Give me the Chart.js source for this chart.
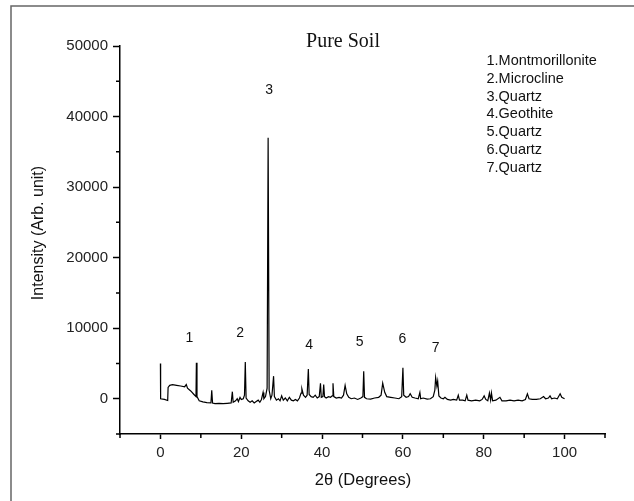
<!DOCTYPE html>
<html>
<head>
<meta charset="utf-8">
<script src="https://cdn.jsdelivr.net/npm/chart.js@4/dist/chart.umd.min.js"></script>
<style>
  html, body { margin: 0; padding: 0; background: #fff; }
  canvas { display: block; }
</style>
</head>
<body>
<canvas id="myChart" width="634" height="501"></canvas>
<script>
// 2theta (degrees) and intensity
const twoTheta = [
  0, 0.05, 1.0, 1.8, 1.9, 2.3, 3, 4, 5, 6, 6.4, 6.7, 7.5, 8.3, 8.8, 8.9, 9.05, 9.6, 10.5, 11.5,
  12.5, 12.7, 12.9, 13.5, 14.5, 15.5, 16.5, 17.5, 17.8, 18.0, 18.6, 19.0, 19.3, 19.7, 20.0, 20.5, 20.8, 21.0, 21.2, 21.7,
  22.2, 22.7, 23.2, 23.7, 24.2, 24.6, 25.0, 25.4, 25.6, 26.0, 26.4, 26.65, 26.9, 27.3, 27.6, 28.0, 28.2, 28.7, 29.2, 29.6,
  30.0, 30.4, 30.9, 31.4, 31.9, 32.4, 32.9, 33.4, 33.9, 34.4, 34.8, 35.0, 35.4, 35.9, 36.3, 36.6, 36.8, 37.3, 37.8, 38.3,
  38.8, 39.3, 39.6, 39.8, 40.2, 40.4, 40.6, 41.0, 41.6, 42.1, 42.5, 42.7, 42.9, 43.5, 44.2, 44.8, 45.3, 45.7, 46.1, 46.6,
  47.2, 48.0, 48.8, 49.6, 50.1, 50.3, 50.5, 51.0, 52.0, 53.0, 54.0, 54.6, 55.0, 55.5, 56.0, 57.0, 58.0, 59.0, 59.7, 60.0,
  60.2, 60.8, 61.4, 61.8, 62.3, 63.0, 63.8, 64.2, 64.4, 65.0, 66.0, 66.8, 67.5, 67.9, 68.1, 68.4, 68.6, 68.9, 69.4, 70.0,
  70.4, 71.0, 71.8, 72.5, 73.3, 73.7, 74.0, 74.8, 75.4, 75.8, 76.1, 77.0, 78.0, 79.0, 79.6, 80.1, 80.5, 81.0, 81.4, 81.7,
  81.9, 82.2, 83.0, 84.0, 84.5, 85.5, 86.5, 87.5, 88.5, 89.5, 90.3, 90.8, 91.2, 92.0, 93.0, 94.0, 94.8, 95.3, 96.0, 96.4,
  96.8, 97.5, 98.2, 98.9, 99.3, 100.0
];
const intensity = [
  5000, 0, -100, -250, 1600, 1900, 2000, 1900, 1800, 1700, 2000, 1500, 1100, 600, 300, 5100, 300, -300, -450, -550,
  -600, 1200, -600, -700, -650, -700, -650, -600, 1000, -500, -300, 0, -400, 200, -100, 0, 500, 5200, 100, -300,
  -500, -300, -600, -400, -200, -500, -100, 900, 0, 300, 1500, 37000, 1200, 0, 500, 3200, 300, -200, 0, -300,
  400, -200, 100, -300, 200, -200, -300, -100, -300, 100, 800, 1400, 500, 200, 500, 4200, 600, 300, 200, 500,
  100, 300, 2200, 200, 300, 2000, 300, 100, 300, 200, 400, 2200, 300, 100, 200, 100, 500, 1900, 700, 200,
  0, 100, -100, 100, 300, 3900, 200, 0, -50, 100, 200, 500, 2200, 900, 300, 200, 100, 0, 300, 4400,
  500, 200, 300, 700, 200, 100, 0, 900, 0, 100, -50, 0, 300, 1200, 3000, 1800, 2500, 400, 100, 0,
  200, -100, -200, -100, -200, 500, -200, -200, -300, 500, -200, -300, -200, -300, -100, 400, -100, -300, 800, -200,
  800, -300, -200, 200, -300, -300, -200, -300, -200, -300, -100, 700, 0, -100, -100, 0, 300, 0, 100, 400,
  0, 100, 0, 700, 200, 0
];

// peak number labels (position in data units)
const peakLabels = ["1", "2", "3", "4", "5", "6", "7"];
const peakX = [7.2, 19.7, 26.9, 36.8, 49.3, 59.9, 68.1];
const peakY = [8070, 8780, 43190, 7080, 7410, 7880, 6610];

const phaseList = ["1.Montmorillonite", "2.Microcline", "3.Quartz", "4.Geothite", "5.Quartz", "6.Quartz", "7.Quartz"];

const xTicks = [0, 20, 40, 60, 80, 100];
const yTicks = [0, 10000, 20000, 30000, 40000, 50000];
const xMinor = [-10, 10, 30, 50, 70, 90, 110];
const yMinor = [-5000, 5000, 15000, 25000, 35000, 45000];

const sans = "'Liberation Sans', Arial, sans-serif";

const points = twoTheta.map((x, i) => ({ x: x, y: intensity[i] }));

// frame, minor ticks, title, text list, axis titles and peak numbers
const textPlugin = {
  id: "texts",
  beforeDraw(chart) {
    const c = chart.ctx;
    c.save();
    c.fillStyle = "#fff";
    c.fillRect(0, 0, chart.width, chart.height);
    c.strokeStyle = "#666";
    c.lineWidth = 1.5;
    c.beginPath();
    c.moveTo(11, 501);
    c.lineTo(11, 6);
    c.lineTo(634, 6);
    c.stroke();
    c.restore();
  },
  afterDraw(chart) {
    const c = chart.ctx;
    const xs = chart.scales.x, ys = chart.scales.y;
    const area = chart.chartArea;
    c.save();

    // short minor ticks
    c.strokeStyle = "#000";
    c.lineWidth = 1.5;
    c.beginPath();
    xMinor.forEach(v => {
      const px = xs.getPixelForValue(v);
      c.moveTo(px, area.bottom);
      c.lineTo(px, area.bottom + 4);
    });
    yMinor.forEach(v => {
      const py = ys.getPixelForValue(v);
      c.moveTo(area.left, py);
      c.lineTo(area.left - 4, py);
    });
    c.stroke();

    c.fillStyle = "#111";
    c.textBaseline = "alphabetic";

    c.font = "20px 'Liberation Serif', 'Times New Roman', serif";
    c.textAlign = "center";
    c.fillText("Pure Soil", 343, 46.5);

    c.font = "14.5px " + sans;
    c.textAlign = "left";
    phaseList.forEach((t, i) => c.fillText(t, 486.5, 65 + i * 17.8));

    c.font = "14px " + sans;
    c.textAlign = "center";
    peakLabels.forEach((t, i) => {
      c.fillText(t, xs.getPixelForValue(peakX[i]), ys.getPixelForValue(peakY[i]));
    });

    c.font = "16.5px " + sans;
    c.textBaseline = "middle";
    c.fillText("2θ (Degrees)", 363, 480);

    c.font = "16px " + sans;
    c.translate(38.5, 233);
    c.rotate(-Math.PI / 2);
    c.fillText("Intensity (Arb. unit)", 0, 0);
    c.restore();
  }
};

// only the labelled ticks are drawn long by the library
const majorColor = list => ctx => list.includes(ctx.tick && ctx.tick.value) ? "#000" : "rgba(0,0,0,0)";

new Chart(document.getElementById("myChart"), {
  type: "line",
  data: {
    datasets: [{
      data: points,
      borderColor: "#000",
      borderWidth: 1.2,
      pointRadius: 0,
      tension: 0,
      fill: false
    }]
  },
  options: {
    responsive: false,
    animation: false,
    devicePixelRatio: 1,
    layout: { padding: { left: 0, top: 46, right: 29, bottom: 0 } },
    plugins: { legend: { display: false }, tooltip: { enabled: false } },
    scales: {
      x: {
        type: "linear",
        min: -10,
        max: 110,
        afterFit(s) { s.height = 67; },
        ticks: {
          stepSize: 10,
          autoSkip: false,
          maxRotation: 0,
          padding: 5,
          color: "#222",
          font: { family: sans, size: 15 },
          callback: v => xTicks.includes(v) ? String(v) : ""
        },
        grid: { drawOnChartArea: false, tickLength: 5, tickColor: majorColor(xTicks), tickWidth: 1.5 },
        border: { display: true, color: "#000", width: 1.5 }
      },
      y: {
        min: -5000,
        max: 50000,
        afterFit(s) { s.width = 120; },
        ticks: {
          stepSize: 5000,
          autoSkip: false,
          padding: 5,
          color: "#222",
          font: { family: sans, size: 15 },
          callback: v => yTicks.includes(v) ? String(v) : ""
        },
        grid: { drawOnChartArea: false, tickLength: 7, tickColor: majorColor(yTicks), tickWidth: 1.5 },
        border: { display: true, color: "#000", width: 1.5 }
      }
    }
  },
  plugins: [textPlugin]
});
</script>
</body>
</html>
